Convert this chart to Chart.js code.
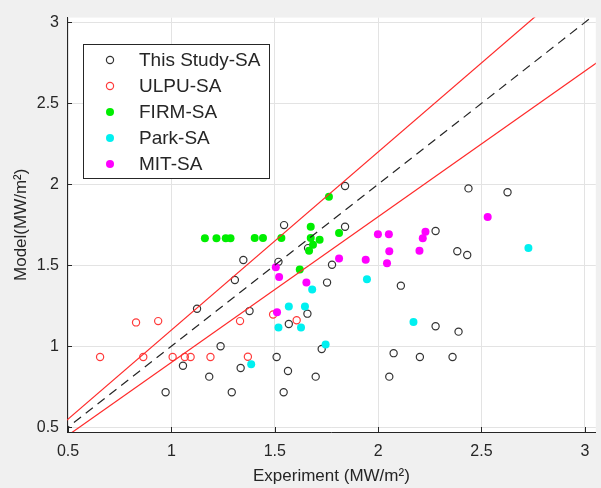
<!DOCTYPE html>
<html>
<head>
<meta charset="utf-8">
<script src="https://cdn.jsdelivr.net/npm/chart.js@4.4.0/dist/chart.umd.min.js"></script>
<style>
  html, body { margin: 0; padding: 0; background: #f0f0f0; }
  canvas { display: block; }
</style>
</head>
<body>
<canvas id="chart" width="601" height="488"></canvas>
<script>
const xTicks = [0.5, 1, 1.5, 2, 2.5, 3];
const yTicks = [0.5, 1, 1.5, 2, 2.5, 3];

// This Study-SA
const studyX = [1.84, 1.545, 1.84, 2.437, 2.626, 2.278, 2.383, 2.431, 1.348, 1.307, 1.661, 1.518,
  1.777, 1.753, 2.11, 1.124, 1.378, 1.658, 1.568, 2.278, 2.389, 1.238, 1.727, 2.075, 1.509, 2.202,
  2.36, 1.056, 1.335, 1.564, 1.183, 1.698, 2.054, 0.972, 1.292, 1.543];
const studyY = [1.99, 1.748, 1.738, 1.975, 1.951, 1.712, 1.587, 1.563, 1.533, 1.409, 1.606, 1.521,
  1.503, 1.393, 1.374, 1.231, 1.217, 1.201, 1.137, 1.123, 1.09, 1.0, 0.983, 0.957, 0.933, 0.933,
  0.933, 0.879, 0.865, 0.847, 0.812, 0.812, 0.812, 0.716, 0.716, 0.716];

// ULPU-SA
const ulpuX = [0.829, 0.936, 1.332, 1.492, 1.606, 0.655, 0.864, 1.006, 1.065, 1.093, 1.189, 1.37];
const ulpuY = [1.147, 1.155, 1.155, 1.196, 1.16, 0.933, 0.933, 0.933, 0.933, 0.933, 0.933, 0.935];

// FIRM-SA
const firmX = [1.762, 1.674, 1.811, 1.162, 1.218, 1.263, 1.286, 1.403, 1.443, 1.532, 1.674, 1.717, 1.685, 1.666, 1.621];
const firmY = [1.924, 1.738, 1.699, 1.667, 1.667, 1.667, 1.667, 1.669, 1.669, 1.669, 1.669, 1.658, 1.626, 1.589, 1.474];

// Park-SA
const parkX = [2.727, 1.946, 1.681, 1.568, 1.646, 1.518, 1.627, 2.171, 1.746, 1.386];
const parkY = [1.607, 1.413, 1.35, 1.245, 1.245, 1.115, 1.115, 1.149, 1.01, 0.888];

// MIT-SA
const mitX = [2.53, 2.229, 2.216, 1.999, 2.052, 2.054, 2.2, 1.94, 2.043, 1.811, 1.505, 1.521, 1.653, 1.511];
const mitY = [1.798, 1.707, 1.667, 1.691, 1.691, 1.587, 1.589, 1.534, 1.513, 1.542, 1.487, 1.428, 1.393, 1.209];

// reference lines y = k * x
const lineX = [0.3, 3.2];
const lineK = [1, 1.1, 0.9];

const pts = (xs, ys) => xs.map((x, i) => ({ x, y: ys[i] }));
const linePts = (k) => lineX.map(x => ({ x, y: k * x }));

const series = [
  { label: 'This Study-SA', data: pts(studyX, studyY), color: '#333333', open: true, order: 5 },
  { label: 'ULPU-SA', data: pts(ulpuX, ulpuY), color: '#ff3b3b', open: true, order: 4 },
  { label: 'FIRM-SA', data: pts(firmX, firmY), color: '#00ee00', open: false, order: 3 },
  { label: 'Park-SA', data: pts(parkX, parkY), color: '#00f0f0', open: false, order: 2 },
  { label: 'MIT-SA', data: pts(mitX, mitY), color: '#ff00ff', open: false, order: 1 },
];

const datasets = series.map(s => ({
  type: 'scatter',
  label: s.label,
  data: s.data,
  order: s.order,
  pointRadius: s.open ? 3.6 : 4,
  pointBorderWidth: s.open ? 1.2 : 0,
  pointBorderColor: s.color,
  pointBackgroundColor: s.open ? 'rgba(0,0,0,0)' : s.color,
  pointHoverRadius: 4,
}));

lineK.forEach(k => {
  datasets.push({
    type: 'line',
    label: 'k' + k,
    data: linePts(k),
    order: 0,
    borderColor: k === 1 ? '#262626' : '#ff2a2a',
    borderWidth: 1.2,
    borderDash: k === 1 ? [9, 6] : [],
    pointRadius: 0,
    fill: false,
  });
});

const frame = {
  id: 'frame',
  beforeDraw(chart) {
    const { ctx, chartArea: a } = chart;
    ctx.save();
    ctx.fillStyle = '#f0f0f0';
    ctx.fillRect(0, 0, chart.width, chart.height);
    ctx.fillStyle = '#ffffff';
    ctx.fillRect(a.left, a.top, a.right - a.left, a.bottom - a.top);
    ctx.restore();
  },
  afterDraw(chart) {
    const { ctx, chartArea: a, scales } = chart;
    ctx.save();
    // inward tick marks
    ctx.strokeStyle = '#262626';
    ctx.lineWidth = 1;
    ctx.beginPath();
    xTicks.forEach(v => {
      const px = Math.round(scales.x.getPixelForValue(v)) + 0.5;
      ctx.moveTo(px, a.bottom);
      ctx.lineTo(px, a.bottom - 5);
    });
    yTicks.forEach(v => {
      const py = Math.round(scales.y.getPixelForValue(v)) + 0.5;
      ctx.moveTo(a.left, py);
      ctx.lineTo(a.left + 5, py);
    });
    ctx.stroke();

    // legend box
    const bx = 83, by = 44, bw = 186, bh = 134;
    ctx.fillStyle = '#ffffff';
    ctx.fillRect(bx, by, bw, bh);
    ctx.strokeStyle = '#262626';
    ctx.strokeRect(bx + 0.5, by + 0.5, bw, bh);
    ctx.font = '19px "Liberation Sans", Arial, sans-serif';
    ctx.textBaseline = 'middle';
    ctx.textAlign = 'left';
    series.forEach((s, i) => {
      const y = by + 16 + i * 26;
      ctx.beginPath();
      ctx.arc(bx + 27, y, s.open ? 3.6 : 4, 0, Math.PI * 2);
      if (s.open) {
        ctx.lineWidth = 1.2;
        ctx.strokeStyle = s.color;
        ctx.stroke();
      } else {
        ctx.fillStyle = s.color;
        ctx.fill();
      }
      ctx.fillStyle = '#262626';
      ctx.fillText(s.label, bx + 56, y + 1);
    });
    ctx.restore();
  }
};

const tickFont = { family: '"Liberation Sans", Arial, sans-serif', size: 16 };
const titleFont = { family: '"Liberation Sans", Arial, sans-serif', size: 17 };

new Chart(document.getElementById('chart'), {
  type: 'scatter',
  data: { datasets },
  options: {
    responsive: false,
    animation: false,
    layout: { padding: { top: 15, right: 5, left: 0, bottom: 0 } },
    plugins: {
      legend: { display: false },
      tooltip: { enabled: false },
    },
    scales: {
      x: {
        type: 'linear',
        min: 0.495,
        max: 3.053,
        afterBuildTicks: (scale) => { scale.ticks = xTicks.map(v => ({ value: v })); },
        afterFit: (scale) => { scale.height = 56; },
        ticks: { color: '#262626', font: tickFont, padding: 10, callback: v => String(v), maxRotation: 0 },
        grid: { color: '#e3e3e3', drawTicks: false },
        border: { color: '#262626', width: 1 },
        title: { display: true, text: 'Experiment (MW/m²)', color: '#262626', font: titleFont, padding: { top: 0, bottom: 1 } },
      },
      y: {
        type: 'linear',
        min: 0.47,
        max: 3.03,
        afterBuildTicks: (scale) => { scale.ticks = yTicks.map(v => ({ value: v })); },
        afterFit: (scale) => { scale.width = 67; },
        ticks: { color: '#262626', font: tickFont, padding: 8, callback: v => String(v) },
        grid: { color: '#e3e3e3', drawTicks: false },
        border: { color: '#262626', width: 1 },
        title: { display: true, text: 'Model(MW/m²)', color: '#262626', font: titleFont, padding: { top: 11, bottom: 0 } },
      },
    },
  },
  plugins: [frame],
});
</script>
</body>
</html>
